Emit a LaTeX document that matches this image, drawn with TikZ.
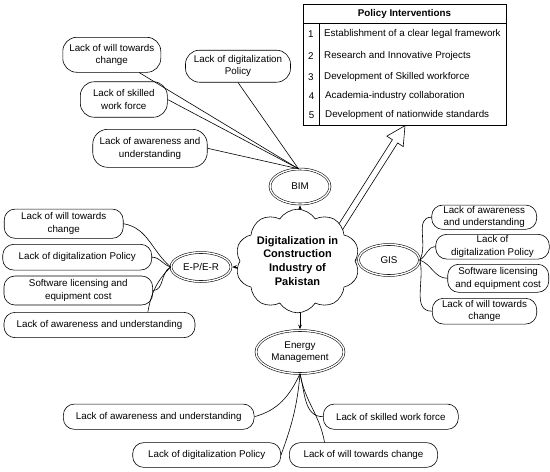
\documentclass[tikz,border=0pt]{standalone}
\usepackage{fontspec}
\setmainfont{Liberation Sans}
\usetikzlibrary{shapes.geometric,shapes.symbols,arrows.meta,calc}
\pgfdeclarelayer{bg}
\pgfsetlayers{bg,main}
\begin{document}
\begin{tikzpicture}[x=1pt,y=1pt,
  every node/.style={font=\fontsize{9.8}{12.5}\selectfont},
  leaf/.style={draw, rounded corners=11pt, align=center, inner sep=0pt, line width=0.6pt},
  dell/.style={ellipse, draw, double, double distance=1.4pt, line width=0.55pt, inner sep=0pt},
  conn/.style={line width=0.6pt},
  arr/.style={line width=0.6pt, -{Stealth[length=4.5pt,width=3.6pt]}, shorten >=1pt}
]
\useasboundingbox (0,0) rectangle (550,-472);

% central cloud
\node[cloud, draw, fill=white, line width=0.6pt, cloud puffs=10, cloud puff arc=115, aspect=1.3,
  minimum width=112pt, minimum height=84pt, inner sep=0pt, align=center,
  font=\fontsize{11}{13.9}\selectfont\bfseries] (cloud) at (297.5,-261)
  {Digitalization in\\Construction\\Industry of\\Pakistan};

% category ellipses
\node[dell, minimum width=60pt, minimum height=35pt] (bim) at (300,-186.5) {BIM};
\node[dell, minimum width=60pt, minimum height=29pt] (eper) at (201,-267) {E-P/E-R};
\node[dell, minimum width=61pt, minimum height=31pt] (gis) at (389,-260) {GIS};
\node[dell, minimum width=88pt, minimum height=43pt, align=center] (em) at (300,-352) {Energy\\Management};

% policy table
\node[draw, line width=0.6pt, minimum width=203.4pt, minimum height=121.3pt, inner sep=0pt] (tbl) at (405,-64.7) {};
\draw[line width=0.6pt] ([yshift=-19.3pt]tbl.north west) -- ([yshift=-19.3pt]tbl.north east);
\draw[line width=0.6pt] ([xshift=16pt,yshift=-19.3pt]tbl.north west) -- ([xshift=16pt]tbl.south west);
\node[font=\fontsize{9.8}{12}\selectfont\bfseries] (th) at (404.5,-14.3) {Policy Interventions};
\node (n1) at (310.8,-34) {1};
\node (n2) at (310.8,-55.7) {2};
\node (n3) at (310.8,-76.7) {3};
\node (n4) at (311.5,-96) {4};
\node (n5) at (311.5,-115) {5};
\node[anchor=west, inner sep=0pt] (t1) at (324,-34) {Establishment of a clear legal framework};
\node[anchor=west, inner sep=0pt] (t2) at (324,-55.7) {Research and Innovative Projects};
\node[anchor=west, inner sep=0pt] (t3) at (324,-76.7) {Development of Skilled workforce};
\node[anchor=west, inner sep=0pt] (t4) at (325,-96) {Academia-industry collaboration};
\node[anchor=west, inner sep=0pt] (t5) at (325,-115) {Development of nationwide standards};

% BIM leaves
\node[leaf, rounded corners=14pt, minimum width=98pt, minimum height=35pt] (b1) at (111.8,-54.8) {Lack of will towards\\change};
\node[leaf, rounded corners=14pt, minimum width=87pt, minimum height=35.5pt] (b2) at (123.8,-99.5) {Lack of skilled\\work force};
\node[leaf, rounded corners=15pt, minimum width=114.5pt, minimum height=38pt] (b3) at (150,-148.3) {Lack of awareness and\\understanding};
\node[leaf, rounded corners=14pt, minimum width=105pt, minimum height=32pt] (b4) at (238,-66.2) {Lack of digitalization\\Policy};

% E-P/E-R leaves
\node[leaf, minimum width=119pt, minimum height=29.3pt] (e1) at (63.7,-223.7) {Lack of will towards\\change};
\node[leaf, minimum width=149pt, minimum height=25.7pt] (e2) at (77.2,-257.2) {Lack of digitalization Policy};
\node[leaf, minimum width=148.7pt, minimum height=29pt] (e3) at (78.3,-290.5) {Software licensing and\\equipment cost};
\node[leaf, minimum width=191pt, minimum height=25.3pt] (e4) at (99.5,-325) {Lack of awareness and understanding};

% GIS leaves
\node[leaf, minimum width=105pt, minimum height=24.3pt] (g1) at (484.2,-217.2) {Lack of awareness\\and understanding};
\node[leaf, minimum width=113.6pt, minimum height=24.7pt] (g2) at (492.5,-246.7) {Lack of\\digitalization Policy};
\node[leaf, minimum width=101pt, minimum height=28pt] (g3) at (498.2,-278.3) {Software licensing\\and equipment cost};
\node[leaf, minimum width=104.4pt, minimum height=25.7pt] (g4) at (484.5,-311.2) {Lack of will towards\\change};

% Energy leaves
\node[leaf, minimum width=190.7pt, minimum height=25.3pt] (m1) at (158.7,-416.7) {Lack of awareness and understanding};
\node[leaf, minimum width=135pt, minimum height=25.3pt] (m2) at (390.8,-416.7) {Lack of skilled work force};
\node[leaf, minimum width=148pt, minimum height=24.7pt] (m3) at (206.7,-455) {Lack of digitalization Policy};
\node[leaf, minimum width=148.3pt, minimum height=24.7pt] (m4) at (363.5,-455) {Lack of will towards change};

\begin{pgfonlayer}{bg}
  % arrows from the cloud
  \draw[arr] (bim.south |- cloud.center) -- (bim.south);
  \draw[arr] (em.north |- cloud.center) -- (em.north);
  \draw[arr] (cloud.center |- eper.east) -- (eper.east);
  \draw[arr] (cloud.center |- gis.west) -- (gis.west);
  % big hollow arrow to the table
  \coordinate (aS) at (333,-239);
  \coordinate (aB) at ($(tbl.south)!18.6pt!(aS)$);
  \draw[line width=0.6pt, fill=white, line join=miter]
    ($(aS)!3.1pt!90:(tbl.south)$) -- ($(aB)!3.1pt!90:(tbl.south)$) --
    ($(aB)!9.7pt!90:(tbl.south)$) -- (tbl.south) --
    ($(aB)!9.7pt!-90:(tbl.south)$) -- ($(aB)!3.1pt!-90:(tbl.south)$) --
    ($(aS)!3.1pt!-90:(tbl.south)$) -- cycle;
\end{pgfonlayer}

% BIM connectors
\draw[conn] (b1.-33) -- (bim.95);
\draw[conn] (b2.east) -- (bim.95);
\draw[conn] (b3.east) -- (bim.95);
\draw[conn] (b4.south) -- (bim.95);

% E-P/E-R connectors
\draw[conn] (e1.east) to[out=-10,in=140] (eper.west);
\draw[conn] (e2.east) to[out=0,in=165] (eper.west);
\draw[conn] (e3.east) to[out=0,in=205] (eper.west);
\draw[conn] (e4.15) to[out=80,in=225] (eper.west);

% GIS connectors
\draw[conn] (gis.east) to[out=60,in=180] (g1.west);
\draw[conn] (gis.east) to[out=30,in=180] (g2.west);
\draw[conn] (gis.east) to[out=-20,in=180] (g3.west);
\draw[conn] (gis.east) to[out=-75,in=180] (g4.west);

% Energy connectors
\draw[conn] (m1.east) to[out=15,in=-115] (em.south);
\draw[conn] (m3.east) to[out=70,in=-95] (em.south);
\draw[conn] (em.south) to[out=-75,in=180] (m2.west);
\draw[conn] (em.south) to[out=-80,in=100] (m4.162);
\end{tikzpicture}
\end{document}
